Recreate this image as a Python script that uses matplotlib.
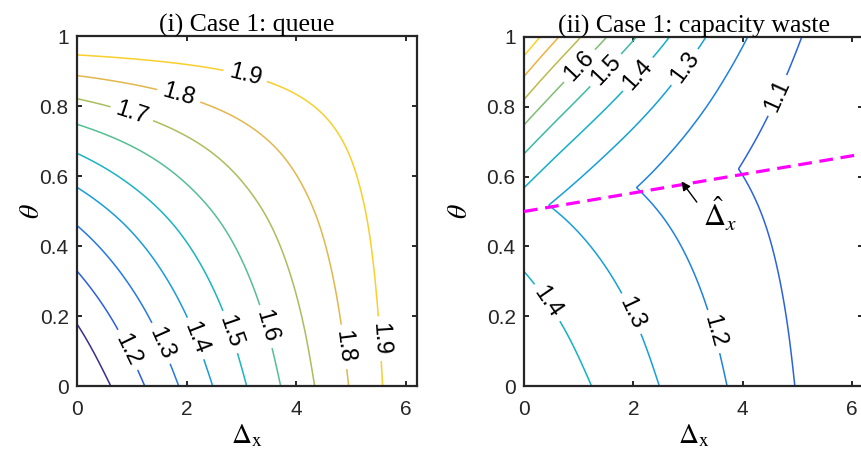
import numpy as np
import matplotlib
matplotlib.use("Agg")
import matplotlib.pyplot as plt

# ---------------- data ----------------
levels = [1.1, 1.2, 1.3, 1.4, 1.5, 1.6, 1.7, 1.8, 1.9]
# theta where the queue reaches 1.0 ... 2.0 along Delta_x = 0
q_theta_x0 = [0.0, 0.178, 0.329, 0.459, 0.568, 0.665, 0.748, 0.821, 0.887, 0.946, 1.0]
q_levels_full = [1.0, 1.1, 1.2, 1.3, 1.4, 1.5, 1.6, 1.7, 1.8, 1.9, 2.0]
# Delta_x where the queue reaches 1.1 ... 1.9 along theta = 0
q_x_theta0 = [0.61, 1.23, 1.86, 2.48, 3.10, 3.72, 4.33, 4.95, 5.57]
# Delta_x where the capacity waste reaches 2.0 ... 1.1 along theta = 1
w_top_x = [0.0, 0.25, 0.66, 1.08, 1.54, 2.03, 2.60, 3.33, 4.12, 5.07]
w_top_levels = [2.0, 1.9, 1.8, 1.7, 1.6, 1.5, 1.4, 1.3, 1.2, 1.1]
# dashed threshold line (Delta_x_hat)
dash_x = [0.0, 6.2]
dash_theta = [0.5, 0.665]
x_ticks = [0, 2, 4, 6]
y_ticks = [0, 0.2, 0.4, 0.6, 0.8, 1]

left_colors = ['#3b2d8f', '#2b5fe3', '#2479e5', '#1a9cdb', '#1ab4c2',
               '#55bf94', '#a8bf5c', '#e2b74c', '#f9cf2c']
right_colors = ['#2b63dd', '#1e82e0', '#16a0d8', '#12b1c8', '#3dbaa4',
                '#7dbe72', '#bcb94e', '#f0b23e', '#f9d326']


def pchip(xk, yk, x):
    xk = np.asarray(xk, float)
    yk = np.asarray(yk, float)
    x = np.asarray(x, float)
    h = np.diff(xk)
    d = np.diff(yk) / h
    n = len(xk)
    m = np.zeros(n)
    m[0] = d[0]
    m[-1] = d[-1]
    for k in range(1, n - 1):
        if d[k - 1] * d[k] > 0:
            w1 = 2 * h[k] + h[k - 1]
            w2 = h[k] + 2 * h[k - 1]
            m[k] = (w1 + w2) / (w1 / d[k - 1] + w2 / d[k])
    xc = np.clip(x, xk[0], xk[-1])
    idx = np.clip(np.searchsorted(xk, xc) - 1, 0, n - 2)
    t = (xc - xk[idx]) / h[idx]
    h00 = 2 * t**3 - 3 * t**2 + 1
    h10 = t**3 - 2 * t**2 + t
    h01 = -2 * t**3 + 3 * t**2
    h11 = t**3 - t**2
    y = (h00 * yk[idx] + h10 * h[idx] * m[idx] + h01 * yk[idx + 1]
         + h11 * h[idx] * m[idx + 1])
    y = np.where(x > xk[-1], yk[-1] + m[-1] * (x - xk[-1]), y)
    y = np.where(x < xk[0], yk[0] + m[0] * (x - xk[0]), y)
    return y


# ---------------- fields built from the readings ----------------
xg = np.linspace(0, 6.2, 620)
tg = np.linspace(0, 1, 500)
X, T = np.meshgrid(xg, tg)

Q0 = pchip(q_theta_x0, q_levels_full, T)
coef = np.polyfit(q_x_theta0, np.array(levels) - 1.0, 1)
U = np.clip(np.polyval(coef, X), 0, 1)
Q = 2.0 - (1.0 - U) * (2.0 - Q0)

# smooth fit of the top-edge readings of the waste
lm = np.log(np.array(w_top_levels) - 1.0)
cm = np.polyfit(w_top_x, lm, 3, w=[4] + [1] * (len(w_top_x) - 1))
M = np.exp(np.polyval(cm, X))
F1 = 2.0 - Q / 2.0
F2 = 1.0 + (Q0 - 1.0) * M
W = np.maximum(F1, F2)

# ---------------- figure ----------------
plt.rcParams['font.family'] = ['Liberation Sans', 'DejaVu Sans']
plt.rcParams['mathtext.fontset'] = 'stix'

fig = plt.figure(figsize=(8.61, 4.55), dpi=100)
axL = fig.add_axes([77 / 861, 69 / 455, 340 / 861, 350 / 455])
axR = fig.add_axes([524 / 861, 69 / 455, 339 / 861, 349 / 455])

axcol = '#262626'
for ax in (axL, axR):
    ax.set_xlim(0, 6.2)
    ax.set_ylim(0, 1)
    ax.set_xticks(x_ticks)
    ax.set_yticks(y_ticks)
    ax.set_yticklabels(['0', '0.2', '0.4', '0.6', '0.8', '1'])
    ax.tick_params(direction='in', top=True, right=True, length=3.5,
                   width=1.4, labelsize=15, colors=axcol)
    ax.tick_params(axis='x', pad=10)
    ax.tick_params(axis='y', pad=6)
    for s in ax.spines.values():
        s.set_linewidth(1.6)
        s.set_color(axcol)
    ax.set_xlabel(r'$\Delta_{\mathrm{x}}$', fontsize=20, labelpad=3)
    ax.set_ylabel(r'$\theta$', fontsize=20)

axL.yaxis.set_label_coords(-0.095, 0.5)
axR.yaxis.set_label_coords(-0.15, 0.5)

csL = axL.contour(X, T, Q, levels=levels, colors=left_colors, linewidths=1.1)
left_manual = [(3.07, 0.888), (1.85, 0.826), (1.0, 0.778), (0.91, 0.102),
               (1.52, 0.121), (2.15, 0.135), (2.79, 0.154), (3.43, 0.169),
               (4.83, 0.111), (5.50, 0.135)]
axL.clabel(csL, manual=left_manual, inline=True, fmt='%.1f', fontsize=17,
           colors='k', inline_spacing=6)

csR = axR.contour(X, T, W, levels=levels, colors=right_colors, linewidths=1.1)
right_manual = [(1.05, 0.912), (1.54, 0.898), (2.12, 0.888), (2.91, 0.917),
                (4.67, 0.83), (0.41, 0.237), (1.97, 0.208), (3.45, 0.155)]
axR.clabel(csR, manual=right_manual, inline=True, fmt='%.1f', fontsize=17,
           colors='k', inline_spacing=6)

axR.plot(dash_x, dash_theta, color='#ff00ff', lw=2.3, dashes=(4.3, 2.4),
         zorder=5)
axR.annotate('', xy=(2.88, 0.586), xytext=(3.16, 0.527),
             arrowprops=dict(arrowstyle='-|>', color='k', lw=1.0,
                             mutation_scale=13, shrinkA=0, shrinkB=0),
             zorder=6)
axR.text(3.58, 0.49, r'$\hat{\Delta}_x$', fontsize=22, ha='center',
         va='center', zorder=6)

axL.set_title('(i) Case 1: queue', fontfamily='Liberation Serif',
              fontsize=18.5, pad=3)
axR.set_title('(ii) Case 1: capacity waste', fontfamily='Liberation Serif',
              fontsize=18.5, pad=3)

fig.savefig('out.png', dpi=100)
